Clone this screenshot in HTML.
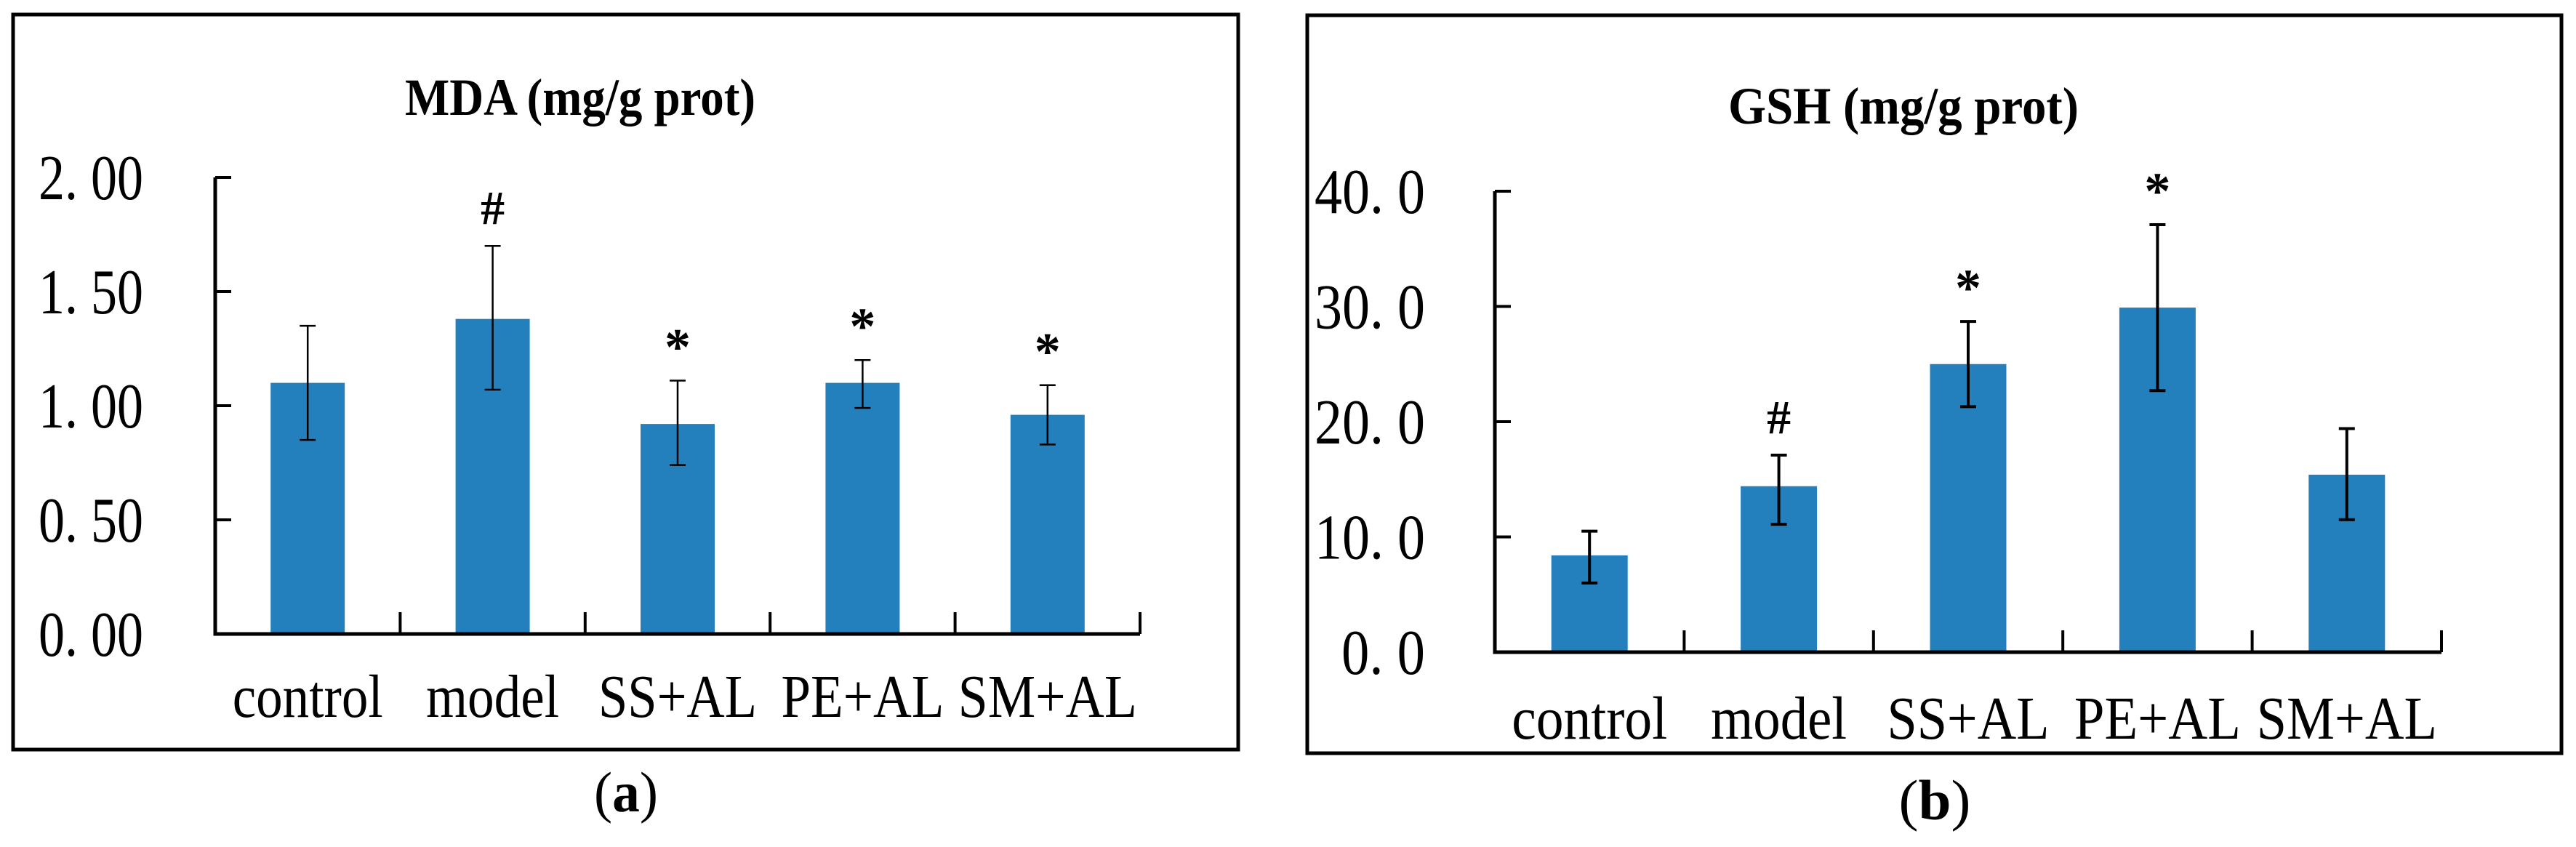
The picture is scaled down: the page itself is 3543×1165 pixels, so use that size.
<!DOCTYPE html>
<html><head><meta charset="utf-8"><style>
html,body{margin:0;padding:0;background:#fff;}
svg{display:block;}
text{font-family:"Liberation Serif",serif;fill:#000;}
</style></head><body>
<svg id="fig" width="3543" height="1165" viewBox="0 0 3543 1165" xmlns="http://www.w3.org/2000/svg">
<rect x="18" y="20" width="1685" height="1011" fill="none" stroke="#000" stroke-width="5"/>
<rect x="1798" y="21" width="1725" height="1015" fill="none" stroke="#000" stroke-width="5"/>
<text x="798" y="158" text-anchor="middle" font-size="72" font-weight="bold" textLength="482" lengthAdjust="spacingAndGlyphs">MDA (mg/g prot)</text>
<text x="2618" y="170" text-anchor="middle" font-size="72" font-weight="bold" textLength="482" lengthAdjust="spacingAndGlyphs">GSH (mg/g prot)</text>
<text x="861" y="1116" text-anchor="middle" font-size="78" textLength="88" lengthAdjust="spacingAndGlyphs">(<tspan font-weight="bold">a</tspan>)</text>
<text x="2661" y="1127" text-anchor="middle" font-size="78" textLength="99" lengthAdjust="spacingAndGlyphs">(<tspan font-weight="bold">b</tspan>)</text>
<g id="ga"></g><g id="gb"></g>
</svg>
<script>
const categories = ["control","model","SS+AL","PE+AL","SM+AL"];
const mdaValues = [1.10,1.38,0.92,1.10,0.96];
const mdaUpper = [1.35,1.70,1.11,1.20,1.09];
const mdaLower = [0.85,1.07,0.74,0.99,0.83];
const mdaMarks = ["","#","*","*","*"];
const mdaTicks = [0,0.5,1.0,1.5,2.0];
const mdaTickLabels = ["0. 00","0. 50","1. 00","1. 50","2. 00"];
const gshValues = [8.4,14.4,25.0,29.9,15.4];
const gshUpper = [10.5,17.1,28.7,37.1,19.4];
const gshLower = [6.0,11.1,21.3,22.7,11.5];
const gshMarks = ["","#","*","*",""];
const gshTicks = [0,10,20,30,40];
const gshTickLabels = ["0. 0","10. 0","20. 0","30. 0","40. 0"];

const NS="http://www.w3.org/2000/svg";
function mk(parent,tag,attrs){const e=document.createElementNS(NS,tag);for(const k in attrs)e.setAttribute(k,attrs[k]);parent.appendChild(e);return e;}

function draw(g,cfg,vals,up,lo,marks,ticks,tickLabels){
  const {x0,x1,y0,yTop,vmax,barW,ebW,tickLabelRight,tickLabelW,labelY,labelW}=cfg;
  const y=v=>y0-(y0-yTop)*v/vmax;
  const n=categories.length, cw=(x1-x0)/n;
  const cx=i=>x0+cw*(i+0.5);
  vals.forEach((v,i)=>{
    const b=mk(g,'rect',{x:cx(i)-barW/2,y:y(v),width:barW,height:y0-y(v),fill:'#2480BD'});
    
    
    const e=mk(g,'path',{d:`M${cx(i)},${y(up[i])}V${y(lo[i])}M${cx(i)-11},${y(up[i])}H${cx(i)+11}M${cx(i)-11},${y(lo[i])}H${cx(i)+11}`,stroke:'#000','stroke-width':ebW,fill:'none'});
    
    
    if(marks[i]){
      const t=mk(g,'text',{x:cx(i),y:y(up[i])-(marks[i]=='#'?30:22),'text-anchor':'middle','font-size':marks[i]=='#'?66:72,'font-weight':'bold'});
      t.textContent=marks[i];
      
      
    }
    const l=mk(g,'text',{x:cx(i),y:labelY,'text-anchor':'middle','font-size':84,textLength:labelW[i],lengthAdjust:'spacingAndGlyphs'});
    l.textContent=categories[i];
    
    
  });
  const ax=mk(g,'path',{d:`M${x0},${yTop}V${y0}H${x1}`,stroke:'#000','stroke-width':5,fill:'none'});
  
  
  let d='';
  ticks.forEach(t=>{d+=`M${x0},${y(t)}H${x0+22}`;});
  for(let i=1;i<=n;i++){d+=`M${x0+cw*i},${y0}V${y0-30}`;}
  const tk=mk(g,'path',{d:d,stroke:'#000','stroke-width':4,fill:'none'});
  
  
  ticks.forEach((t,i)=>{
    const tl=mk(g,'text',{x:tickLabelRight,y:y(t)+30,'text-anchor':'end','font-size':88,textLength:tickLabelW[i],lengthAdjust:'spacingAndGlyphs'});
    tl.textContent=tickLabels[i];
    
    
  });
}
draw(document.getElementById('ga'),{x0:296,x1:1568,y0:872,yTop:244,vmax:2.0,barW:102,ebW:2.5,tickLabelRight:197,tickLabelW:[144,144,144,144,144],labelY:986,labelW:[207,183,218,224,246]},mdaValues,mdaUpper,mdaLower,mdaMarks,mdaTicks,mdaTickLabels);
draw(document.getElementById('gb'),{x0:2056,x1:3358,y0:897,yTop:263,vmax:40,barW:105,ebW:4,tickLabelRight:1960,tickLabelW:[115,152,152,152,152],labelY:1016,labelW:[214,187,223,229,248]},gshValues,gshUpper,gshLower,gshMarks,gshTicks,gshTickLabels);
</script>
</body></html>
